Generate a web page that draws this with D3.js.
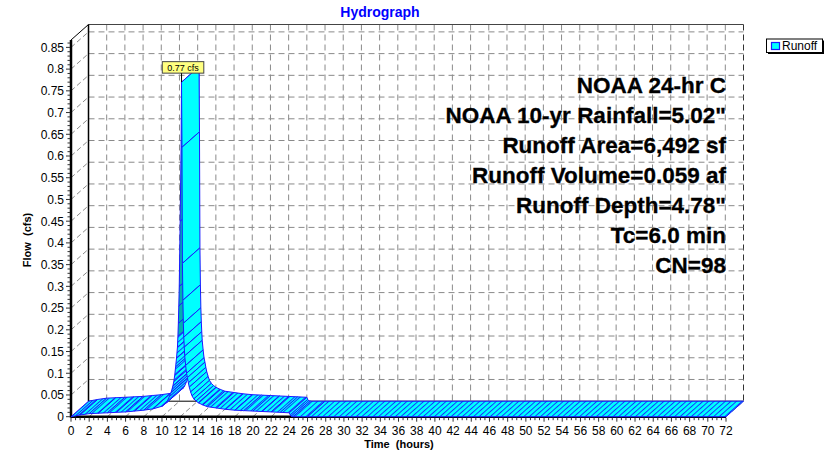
<!DOCTYPE html>
<html><head><meta charset="utf-8">
<script src="https://cdn.jsdelivr.net/npm/d3@7"></script>
<style>
body{margin:0;background:#fff;}
svg{display:block;font-family:"Liberation Sans",Arial,sans-serif;}
</style>
</head><body>
<svg id="c" width="839" height="451"></svg>
<script>
// ---- data ----
const hours = [0, 0.5, 1, 2, 3, 4, 5, 6, 7, 8, 9, 10, 10.5, 10.8, 11.0, 11.1, 11.2, 11.3, 11.4, 11.5, 11.6, 11.7, 11.75, 11.8, 11.85, 11.9, 12.0, 12.1, 12.15,
  12.2, 12.25, 12.3, 12.35, 12.4, 12.45, 12.5, 12.6, 12.7, 12.8, 12.9, 13.0, 13.15, 13.3, 13.5, 13.75, 14, 14.5, 15,
  16, 17, 18, 19, 20, 21, 22, 23, 24, 24.1, 24.2, 24.4, 26, 72];
const flows = [0, 0.002, 0.004, 0.007, 0.008, 0.009, 0.010, 0.011, 0.013, 0.015, 0.018, 0.024, 0.032, 0.046, 0.056, 0.063, 0.071, 0.081, 0.095, 0.115, 0.135, 0.16, 0.185, 0.215, 0.255, 0.3, 0.45, 0.62, 0.77,
  0.62, 0.353, 0.268, 0.215, 0.183, 0.16, 0.14, 0.118, 0.1, 0.09, 0.078, 0.068, 0.057, 0.048, 0.041, 0.036, 0.032, 0.027, 0.023,
  0.02, 0.017, 0.015, 0.014, 0.013, 0.012, 0.011, 0.010, 0.009, 0.004, 0.001, 0, 0, 0];
const xTickLabels = [0,2,4,6,8,10,12,14,16,18,20,22,24,26,28,30,32,34,36,38,40,42,44,46,48,50,52,54,56,58,60,62,64,66,68,70,72];
const yTickLabels = [0,0.05,0.1,0.15,0.2,0.25,0.3,0.35,0.4,0.45,0.5,0.55,0.6,0.65,0.7,0.75,0.8,0.85];
const noteLines = ["NOAA 24-hr C", "NOAA 10-yr Rainfall=5.02\"", "Runoff Area=6,492 sf", "Runoff Volume=0.059 af",
  "Runoff Depth=4.78\"", "Tc=6.0 min", "CN=98"];
const peakLabel = "0.77 cfs";
const seriesName = "Runoff";
const chartTitle = "Hydrograph";
const xTitle = "Time  (hours)";
const yTitle = "Flow  (cfs)";

// ---- layout ----
const svg = d3.select("#c");
const x = d3.scaleLinear().domain([0, 72]).range([71, 726]);
const y = d3.scaleLinear().domain([0, 0.867]).range([416.7, 40]);
const DX = 17.5, DY = -15.5;
const CYAN = "#00ffff", BLUE = "#1a1aff", TEAL = "#00b0b0", GRID = "#8a8a8a";

const defs = svg.append("defs");
const pat = defs.append("pattern").attr("id", "hatch").attr("patternUnits", "userSpaceOnUse")
  .attr("width", 3.7).attr("height", 10).attr("patternTransform", "rotate(48.5)");
pat.append("rect").attr("width", 3.7).attr("height", 10).attr("fill", CYAN);
pat.append("line").attr("x1", 0.5).attr("x2", 0.5).attr("y1", 0).attr("y2", 10).attr("stroke", BLUE).attr("stroke-width", 0.9);

const yMax = y.domain()[1];
const bx0 = x(0) + DX, bx1 = x(72) + DX, byTop = y(yMax) + DY, byBot = y(0) + DY;

// back wall grid
const g = svg.append("g");
xTickLabels.forEach(t => {
  if (t === 0) return;
  g.append("line").attr("x1", x(t) + DX).attr("x2", x(t) + DX).attr("y1", byTop).attr("y2", byBot)
    .attr("stroke", t === 72 ? "#333" : GRID).attr("stroke-dasharray", "6,4");
  g.append("line").attr("x1", x(t)).attr("y1", y(0)).attr("x2", x(t) + DX).attr("y2", y(0) + DY)
    .attr("stroke", GRID).attr("stroke-dasharray", "5,3");
});
yTickLabels.forEach(v => {
  if (v === 0) return;
  g.append("line").attr("x1", bx0).attr("x2", bx1).attr("y1", y(v) + DY).attr("y2", y(v) + DY)
    .attr("stroke", GRID).attr("stroke-dasharray", "6,4");
  g.append("line").attr("x1", x(0)).attr("y1", y(v)).attr("x2", x(0) + DX).attr("y2", y(v) + DY)
    .attr("stroke", GRID).attr("stroke-dasharray", "5,3");
});
g.append("line").attr("x1", bx0).attr("x2", bx1).attr("y1", byTop).attr("y2", byTop).attr("stroke", "#444");
g.append("line").attr("x1", bx0).attr("x2", bx1).attr("y1", byBot).attr("y2", byBot).attr("stroke", "#000");
g.append("line").attr("x1", bx0).attr("x2", bx0).attr("y1", byTop).attr("y2", byBot).attr("stroke", "#000").attr("stroke-width", 1.5);
g.append("line").attr("x1", x(0)).attr("y1", y(yMax)).attr("x2", bx0).attr("y2", byTop).attr("stroke", "#000");

// axes (front)
const ax = svg.append("g");
ax.append("line").attr("x1", x(0)).attr("x2", x(72)).attr("y1", y(0)).attr("y2", y(0)).attr("stroke", "#000").attr("stroke-width", 2.5);
ax.append("line").attr("x1", x(0)).attr("x2", x(0)).attr("y1", y(yMax)).attr("y2", y(0) + 1).attr("stroke", "#000").attr("stroke-width", 2.5);
d3.range(0, 72.01, 0.5).forEach(t => {
  const major = Math.abs(t / 2 - Math.round(t / 2)) < 1e-6;
  ax.append("line").attr("x1", x(t)).attr("x2", x(t)).attr("y1", y(0) + 1).attr("y2", y(0) + (major ? 5 : 3.5))
    .attr("stroke", "#333").attr("stroke-width", 1);
});
d3.range(0, 0.8651, 0.01).forEach(v => {
  const major = Math.abs(v / 0.05 - Math.round(v / 0.05)) < 1e-6;
  ax.append("line").attr("y1", y(v)).attr("y2", y(v)).attr("x1", x(0) - 1).attr("x2", x(0) - (major ? 5 : 3.5))
    .attr("stroke", "#333").attr("stroke-width", 1);
});
ax.selectAll("text.xl").data(xTickLabels).join("text").attr("class", "xl")
  .attr("x", d => x(d)).attr("y", 435).attr("text-anchor", "middle").attr("font-size", 12).text(d => d);
ax.selectAll("text.yl").data(yTickLabels).join("text").attr("class", "yl")
  .attr("x", 64).attr("y", d => y(d)).attr("dy", "0.36em").attr("text-anchor", "end").attr("font-size", 12).text(d => d);

// ribbon
const rib = svg.append("g");
for (let i = 0; i < hours.length - 1; i++) {
  const f0 = [x(hours[i]), y(flows[i])], f1 = [x(hours[i + 1]), y(flows[i + 1])];
  const b0 = [f0[0] + DX, f0[1] + DY], b1 = [f1[0] + DX, f1[1] + DY];
  const sx = f1[0] - f0[0], sy = f1[1] - f0[1];
  const cross = sx * DY - sy * DX;
  let fill;
  if (cross > 0) fill = Math.abs(sy) > 12 ? TEAL : "url(#hatch)";
  else if (Math.abs(sx) >= 3) fill = "url(#hatch)";
  else fill = CYAN;
  rib.append("path").attr("d", "M" + [f0, f1, b1, b0].map(p => p.join(",")).join("L") + "Z")
    .attr("fill", fill).attr("stroke", BLUE).attr("stroke-width", 1).attr("stroke-linejoin", "round");
}

// peak label
const pi = flows.indexOf(d3.max(flows));
const px = x(hours[pi]), py = y(flows[pi]);
const lg = svg.append("g");
const lt = lg.append("text").attr("font-size", 9).attr("text-anchor", "middle").attr("x", px + 1.5).attr("y", py - 11.5).text(peakLabel);
const tw = lt.node().getComputedTextLength();
lg.insert("rect", "text").attr("x", px + 1.5 - tw / 2 - 5).attr("y", py - 20.5).attr("width", tw + 10).attr("height", 11.5)
  .attr("fill", "#ffff80").attr("stroke", "#444").attr("stroke-width", 1);
lg.append("line").attr("x1", px).attr("x2", px).attr("y1", py - 9).attr("y2", py).attr("stroke", "#000");

// annotation text
svg.append("g").selectAll("text").data(noteLines).join("text")
  .attr("x", 726).attr("y", (d, i) => 93 + i * 30).attr("text-anchor", "end")
  .attr("font-size", 22.5).attr("font-weight", "bold").attr("fill", "#000")
  .attr("stroke", "#000").attr("stroke-width", 0.3).text(d => d);

// titles
svg.append("text").attr("x", 380).attr("y", 17.3).attr("text-anchor", "middle").attr("font-size", 14)
  .attr("font-weight", "bold").attr("fill", "#0000ff").text(chartTitle);
svg.append("text").attr("x", 399).attr("y", 448).attr("text-anchor", "middle").attr("font-size", 11)
  .attr("font-weight", "bold").style("white-space", "pre").text(xTitle);
svg.append("text").attr("transform", "translate(31,240) rotate(-90)").attr("text-anchor", "middle").attr("font-size", 11)
  .attr("font-weight", "bold").style("white-space", "pre").text(yTitle);

// legend
const leg = svg.append("g");
leg.append("rect").attr("x", 768).attr("y", 40.5).attr("width", 56).attr("height", 13.5).attr("fill", "#000");
leg.append("rect").attr("x", 766.5).attr("y", 39).attr("width", 56).attr("height", 13.5).attr("fill", "#fff").attr("stroke", "#000");
leg.append("rect").attr("x", 771.5).attr("y", 42.5).attr("width", 8).attr("height", 7).attr("fill", CYAN).attr("stroke", BLUE).attr("stroke-width", 1.2);
leg.append("text").attr("x", 782).attr("y", 50.3).attr("font-size", 12).text(seriesName);
</script>
</body></html>
